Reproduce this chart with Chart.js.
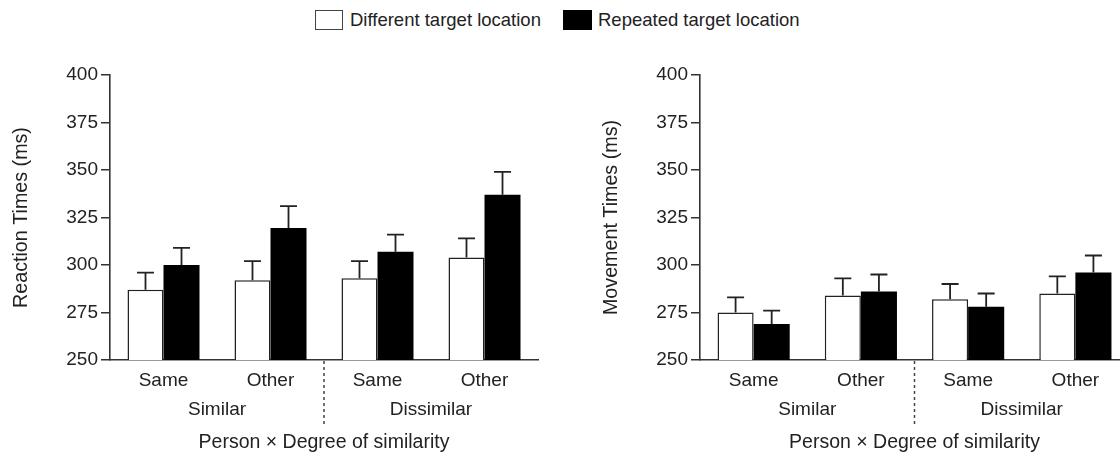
<!DOCTYPE html>
<html><head><meta charset="utf-8">
<script src="https://cdn.jsdelivr.net/npm/chart.js@4/dist/chart.umd.min.js"></script>
<style>
html,body{margin:0;padding:0;width:1120px;height:466px;overflow:hidden;background:#fff;font-family:"Liberation Sans",Arial,sans-serif;color:#222;}
.wrap{position:absolute;top:0;height:466px;}
#w1{left:0;width:545px;}
#w2{left:590px;width:546px;}
.lbox{position:absolute;box-sizing:border-box;top:10px;height:20px;}
.ltxt{position:absolute;top:9px;font-size:18.5px;line-height:22px;white-space:nowrap;color:#222;}
</style></head>
<body>
<div id="legend">
  <div class="lbox" style="left:315px;width:28px;border:1.5px solid #444;background:#fff"></div>
  <div class="ltxt" style="left:350px">Different target location</div>
  <div class="lbox" style="left:563px;width:29px;background:#000;border:1px solid #000"></div>
  <div class="ltxt" style="left:598px">Repeated target location</div>
</div>
<div class="wrap" id="w1"><canvas id="c1"></canvas></div>
<div class="wrap" id="w2"><canvas id="c2"></canvas></div>
<script>
// ---- data ----
const categories = ['Same', 'Other', 'Same', 'Other'];
const groupLabels = ['Similar', 'Dissimilar'];
const seriesNames = ['Different target location', 'Repeated target location'];
const yTicks = [250, 275, 300, 325, 350, 375, 400];

const rtDifferent = [287, 292, 293, 304];
const rtDifferentErr = [9, 10, 9, 10];
const rtRepeated = [300, 319.5, 307, 337];
const rtRepeatedErr = [9, 11.5, 9, 12];

const mtDifferent = [275, 284, 282, 285];
const mtDifferentErr = [8, 9, 8, 9];
const mtRepeated = [269, 286, 278, 296];
const mtRepeatedErr = [7, 9, 7, 9];

const FONT = '"Liberation Sans", Arial, sans-serif';
const TXT = '#222';
const AX = '#333';
Chart.defaults.font.family = FONT;
Chart.defaults.color = TXT;

const extrasPlugin = {
  id: 'extras',
  afterDatasetsDraw(chart) {
    const ctx = chart.ctx;
    const y = chart.scales.y;
    ctx.save();
    // error bars (upper only, with cap)
    chart.data.datasets.forEach((ds, di) => {
      const meta = chart.getDatasetMeta(di);
      meta.data.forEach((bar, i) => {
        const top = y.getPixelForValue(ds.data[i] + ds.errors[i]);
        ctx.strokeStyle = '#222';
        ctx.lineWidth = 1.8;
        ctx.setLineDash([]);
        ctx.beginPath();
        ctx.moveTo(bar.x, bar.y);
        ctx.lineTo(bar.x, top);
        ctx.moveTo(bar.x - 8.5, top);
        ctx.lineTo(bar.x + 8.5, top);
        ctx.stroke();
      });
    });
    ctx.restore();
  },
  afterDraw(chart) {
    const ctx = chart.ctx;
    const x = chart.scales.x;
    const bottom = chart.chartArea.bottom;
    ctx.save();
    // dashed separator between the two groups
    const sx = (x.getPixelForValue(1) + x.getPixelForValue(2)) / 2;
    ctx.strokeStyle = '#444';
    ctx.lineWidth = 1.5;
    ctx.setLineDash([3, 3]);
    ctx.beginPath();
    ctx.moveTo(sx, bottom + 1);
    ctx.lineTo(sx, bottom + 67);
    ctx.stroke();
    // group labels
    ctx.setLineDash([]);
    ctx.fillStyle = TXT;
    ctx.font = '19px ' + FONT;
    ctx.textAlign = 'center';
    ctx.textBaseline = 'middle';
    groupLabels.forEach((g, gi) => {
      const cx = (x.getPixelForValue(gi * 2) + x.getPixelForValue(gi * 2 + 1)) / 2;
      ctx.fillText(g, cx, bottom + 50);
    });
    ctx.restore();
  }
};

function makeChart(id, yTitle, d1, e1, d2, e2) {
  return new Chart(document.getElementById(id), {
    type: 'bar',
    data: {
      labels: categories,
      datasets: [
        { label: seriesNames[0], data: d1, errors: e1, backgroundColor: '#fff', borderColor: '#222', borderWidth: 1.5,
          barPercentage: 1, categoryPercentage: 0.673 },
        { label: seriesNames[1], data: d2, errors: e2, backgroundColor: '#000', borderColor: '#000', borderWidth: 0,
          barPercentage: 1, categoryPercentage: 0.673 }
      ]
    },
    options: {
      responsive: true,
      maintainAspectRatio: false,
      animation: false,
      events: [],
      layout: { padding: { top: 75, right: 7, bottom: 0, left: 0 } },
      plugins: { legend: { display: false }, tooltip: { enabled: false } },
      scales: {
        x: {
          type: 'category',
          grid: { display: false, drawTicks: false },
          border: { display: true, color: AX, width: 1.6 },
          ticks: { font: { size: 19 }, color: TXT, padding: 9, maxRotation: 0, autoSkip: false },
          title: { display: true, text: 'Person × Degree of similarity', font: { size: 19.5 }, color: TXT,
                   padding: { top: 0, bottom: 12 } },
          afterFit(scale) { scale.height = 106; }
        },
        y: {
          min: 250, max: 400,
          afterBuildTicks(scale) { scale.ticks = yTicks.map(v => ({ value: v })); },
          grid: { display: true, drawOnChartArea: false, drawTicks: true, tickLength: 9, color: AX, lineWidth: 1.5 },
          border: { display: true, color: AX, width: 1.6 },
          ticks: { font: { size: 19 }, color: TXT, padding: 3 },
          title: { display: true, text: yTitle, font: { size: 19.7 }, color: TXT, padding: { top: 10, bottom: 0 } },
          afterFit(scale) { scale.width = 110; }
        }
      }
    },
    plugins: [extrasPlugin]
  });
}

makeChart('c1', 'Reaction Times (ms)', rtDifferent, rtDifferentErr, rtRepeated, rtRepeatedErr);
makeChart('c2', 'Movement Times (ms)', mtDifferent, mtDifferentErr, mtRepeated, mtRepeatedErr);
</script>
</body></html>
